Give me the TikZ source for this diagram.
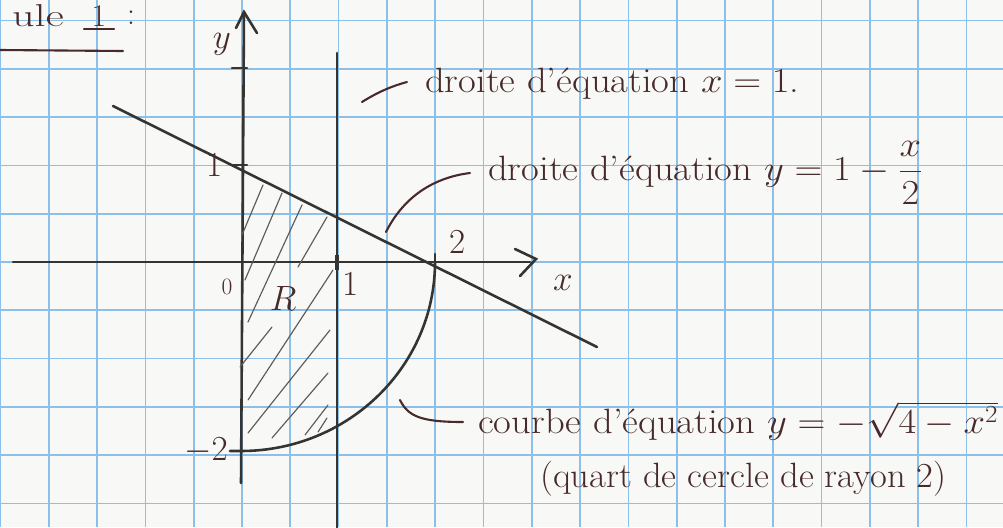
\RequirePackage{fix-cm}
\documentclass[tikz,border=0pt]{standalone}
\usepackage{fontspec}
\definecolor{paper}{RGB}{248,249,247}
\definecolor{gridblue}{RGB}{140,192,232}
\definecolor{ink}{RGB}{52,52,50}
\definecolor{pen}{RGB}{72,42,42}
\tikzset{
  gridline/.style={gridblue, line width=1.4pt},
  axisline/.style={ink, line width=2.2pt, line cap=round},
  hatchline/.style={ink!80, line width=1pt, line cap=round},
  leader/.style={pen, line width=1.8pt, line cap=round},
  lab/.style={pen, inner sep=0pt, font=\fontsize{30}{34}\selectfont},
  titlelab/.style={pen, inner sep=0pt, font=\fontsize{27}{30}\selectfont},
  smalllab/.style={pen, inner sep=0pt, font=\fontsize{20}{24}\selectfont},
  annot/.style={pen, inner sep=0pt, anchor=base west, font=\fontsize{30}{34}\selectfont}
}
\begin{document}
\begin{tikzpicture}[x=0.03cm, y=-0.03cm]
\useasboundingbox (0,0) rectangle (1003,527);
\fill[paper] (0,0) rectangle (1003,527);
% grid
\foreach \k in {0,...,20} {\draw[gridline] ({0.5+48.3*\k},0) -- ({0.5+48.3*\k},527);}
\foreach \k in {-5,...,5} {\draw[gridline] (0,{262-48.3*\k}) -- (1003,{262-48.3*\k});}
% title
\node[titlelab, anchor=base east] (tu) at (64,26) {\scalebox{1.4}[1]{ule}};
\node[titlelab, anchor=base] (t1) at (99,26) {1};
\node[titlelab, anchor=base] (tc) at (131,24) {:};
\draw[leader] (84,29) -- (114,29);
\draw[leader] (0,50) -- (123,51);
% axes
\draw[axisline] (241,483) -- (244,12);
\draw[axisline] (236,28) -- (244,12) -- (257,33);
\draw[axisline] (13,262) -- (530,262);
\draw[axisline] (515,249) -- (536,259) -- (520,276);
% vertical line x=1
\draw[axisline] (337,53) -- (337,530);
% line y = 1 - x/2
\draw[axisline] (113,106) -- (597,347);
% quarter circle
\draw[axisline] (435,262) arc[start angle=0, end angle=-90, x radius=194, y radius=-189] -- (230,451);
% ticks
\draw[axisline] (232,68) -- (247,68);
\draw[axisline] (232,165) -- (247,165);
\draw[axisline] (232,451) -- (247,451);
\draw[axisline] (435,254) -- (435,270);
\draw[ink, line width=4pt] (337,255) -- (337,270);
% hatching
\draw[hatchline] (263,185) -- (242,235);
\draw[hatchline] (282,193) -- (245,280);
\draw[hatchline] (302,205) -- (248,322);
\draw[hatchline] (327,217) -- (298,267);
\draw[hatchline] (272,327) -- (240,367);
\draw[hatchline] (333,270) -- (248,400);
\draw[hatchline] (330,330) -- (248,433);
\draw[hatchline] (328,373) -- (272,438);
\draw[hatchline] (328,405) -- (305,435);
\draw[hatchline] (327,418) -- (318,432);
% axis labels
\node[lab] (ly) at (222,44) {$y$};
\node[lab] (l1y) at (215,165) {1};
\node[smalllab] (l0) at (227,287) {0};
\node[lab] (lR) at (283,298) {$R$};
\node[lab] (l1x) at (351,284) {1};
\node[lab] (l2x) at (458,242) {2};
\node[lab] (lx) at (563,283) {$x$};
\node[lab] (lm2) at (206,451) {$-2$};
% annotations
\node[annot] (a1) at (425,92) {\scalebox{1.1}[1]{droite d'équation $x=1$.}};
\node[annot] (a2) at (488,180) {\scalebox{1.1}[1]{droite d'équation $y=1-\displaystyle\frac{x}{2}$}};
\node[annot] (a3) at (478,433) {\scalebox{1.1}[1]{courbe d'équation $y=-\sqrt{4-x^2}$}};
\node[annot] (a4) at (540,487) {\scalebox{1.04}[1]{(quart de cercle de rayon 2)}};
% leaders
\coordinate (s1) at (362,102);
\coordinate (e1) at (407,82);
\coordinate (s2) at (386,232);
\coordinate (e2) at (470,173);
\coordinate (s3) at (400,400);
\coordinate (e3) at (463,422);
\draw[leader] (s1) .. controls (378,92) and (392,86) .. (e1);
\draw[leader] (s2) .. controls (402,200) and (430,178) .. (e2);
\draw[leader] (s3) .. controls (408,416) and (420,422) .. (e3);
\end{tikzpicture}
\end{document}
